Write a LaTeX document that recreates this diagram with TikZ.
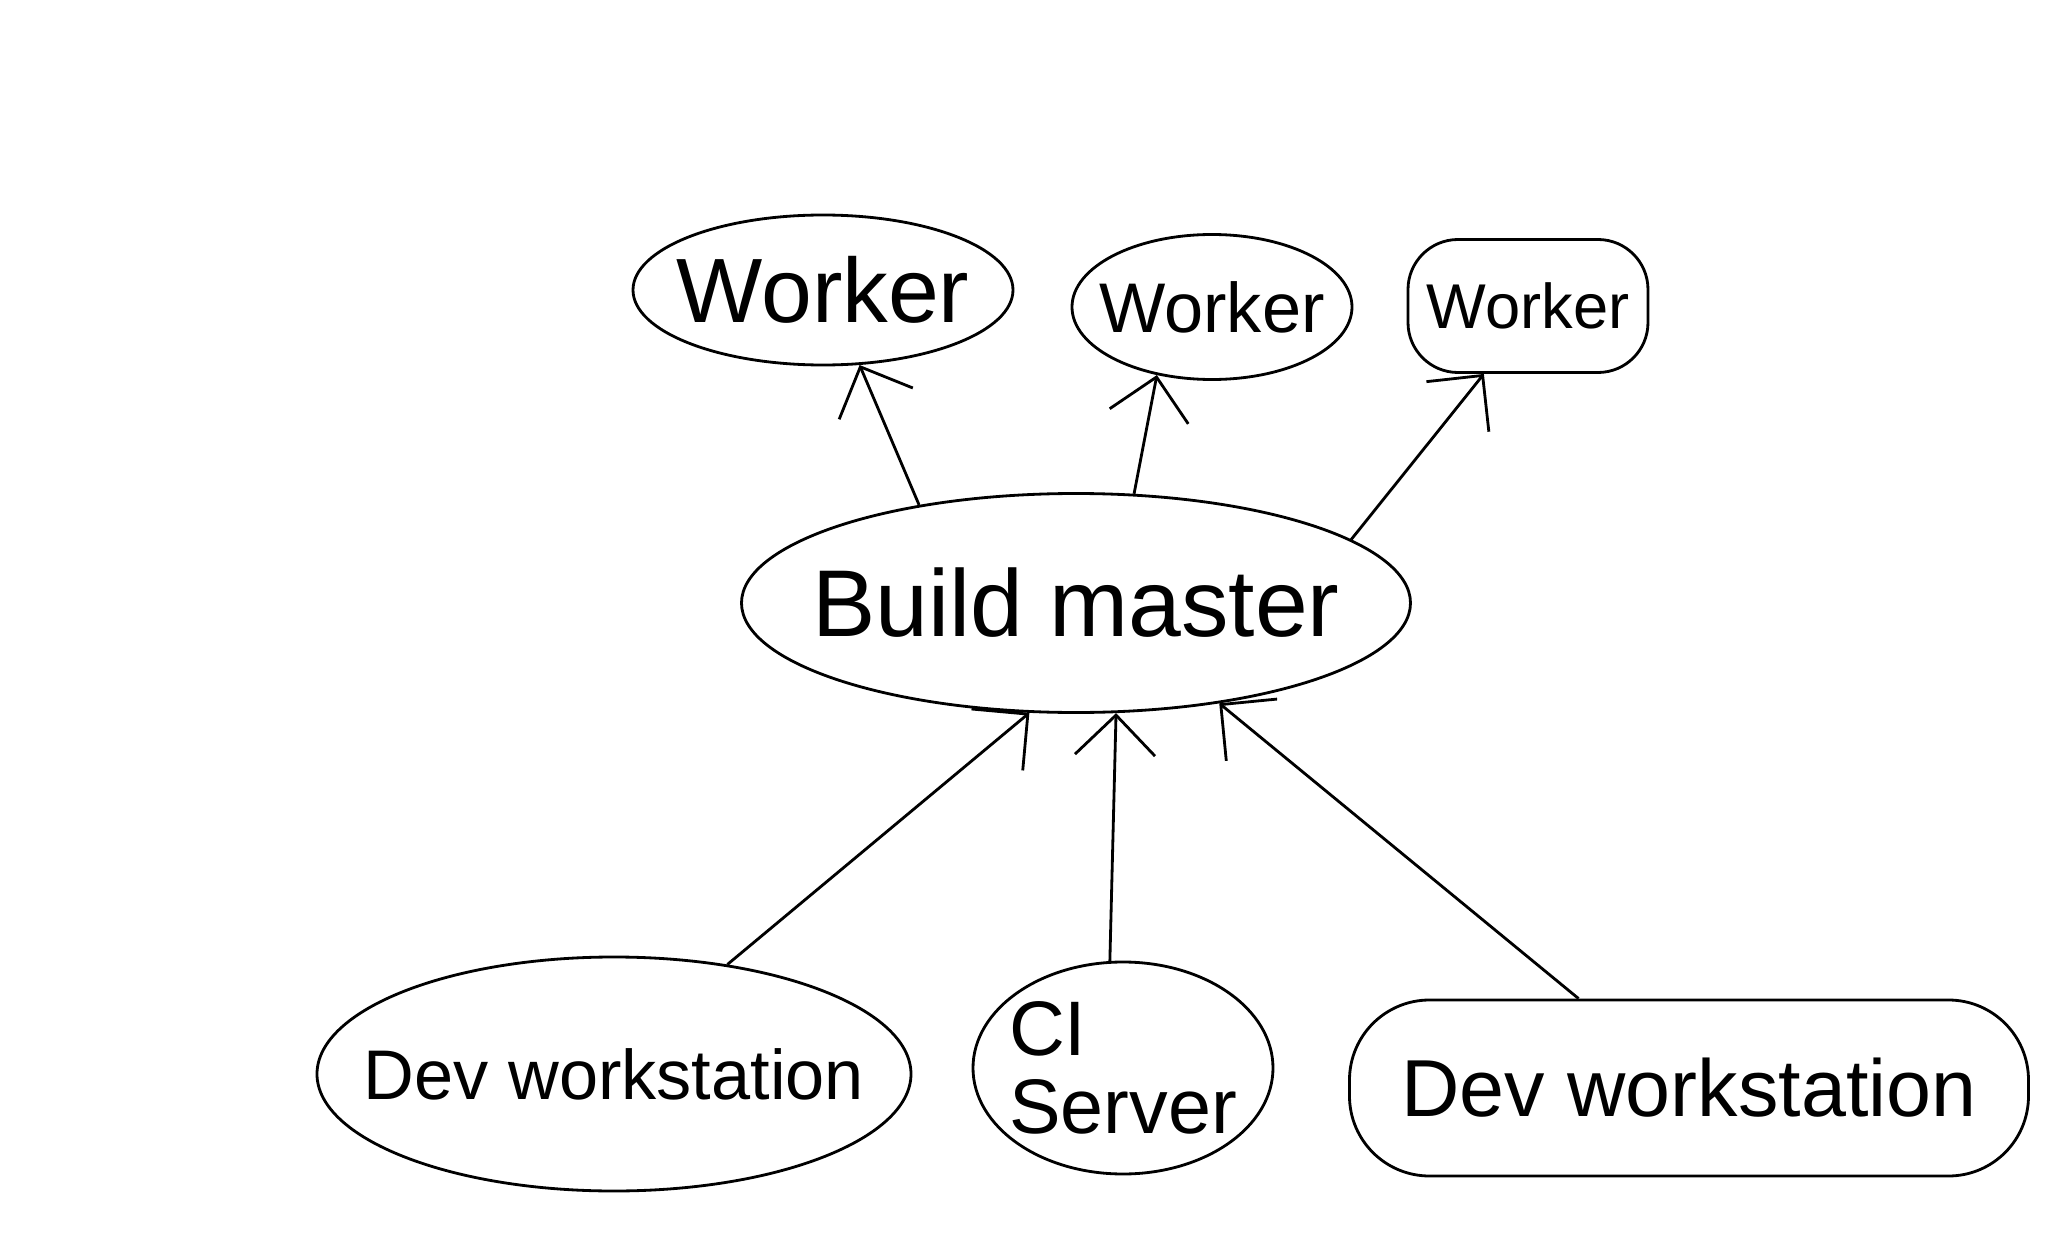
\documentclass[tikz,border=0pt]{standalone}
\usepackage{fontspec}
\setmainfont{Liberation Sans}
\usetikzlibrary{shapes.geometric,arrows.meta}
\newcommand\txtsize[1]{\fontsize{#1}{#1}\selectfont}
\begin{document}
\begin{tikzpicture}[line width=.8pt,
  blob/.style={draw,ellipse,inner sep=0pt},
  pad/.style={draw,rectangle,rounded corners=.5cm,inner sep=0pt},
  tip/.style={-{Straight Barb[length=4mm,width=8mm]}}]
\useasboundingbox (0,0) rectangle (20.48,-12.44);
% workers
\node[blob,minimum width=3.8cm,minimum height=1.5cm,label={[font=\txtsize{26}]center:Worker}] (w1) at (8.23,-2.90) {};
\node[blob,minimum width=2.8cm,minimum height=1.45cm,label={[font=\txtsize{20}]center:Worker}] (w2) at (12.12,-3.07) {};
\node[pad,minimum width=2.4cm,minimum height=1.33cm,label={[font=\txtsize{18}]center:Worker}] (w3) at (15.28,-3.06) {};
% master
\node[blob,minimum width=6.69cm,minimum height=2.19cm,label={[font=\txtsize{27}]center:Build master}] (m) at (10.76,-6.03) {};
% clients
\node[blob,minimum width=5.94cm,minimum height=2.34cm,label={[font=\txtsize{20}]center:Dev workstation}] (d1) at (6.14,-10.74) {};
\node[blob,minimum width=3.0cm,minimum height=2.12cm,label={[font=\txtsize{22},align=left]center:CI\\Server}] (ci) at (11.23,-10.68) {};
\node[pad,minimum width=6.79cm,minimum height=1.76cm,rounded corners=.8cm,label={[font=\txtsize{23}]center:Dev workstation}] (d2) at (16.89,-10.88) {};
\foreach \a/\b in {m.148/w1.296,m.62/w2.231,m.13/w3.237,d1.44/m.247,ci.97/m.290,d2.141/m.325}
  \draw[tip] (\a) -- (\b);
\end{tikzpicture}
\end{document}
